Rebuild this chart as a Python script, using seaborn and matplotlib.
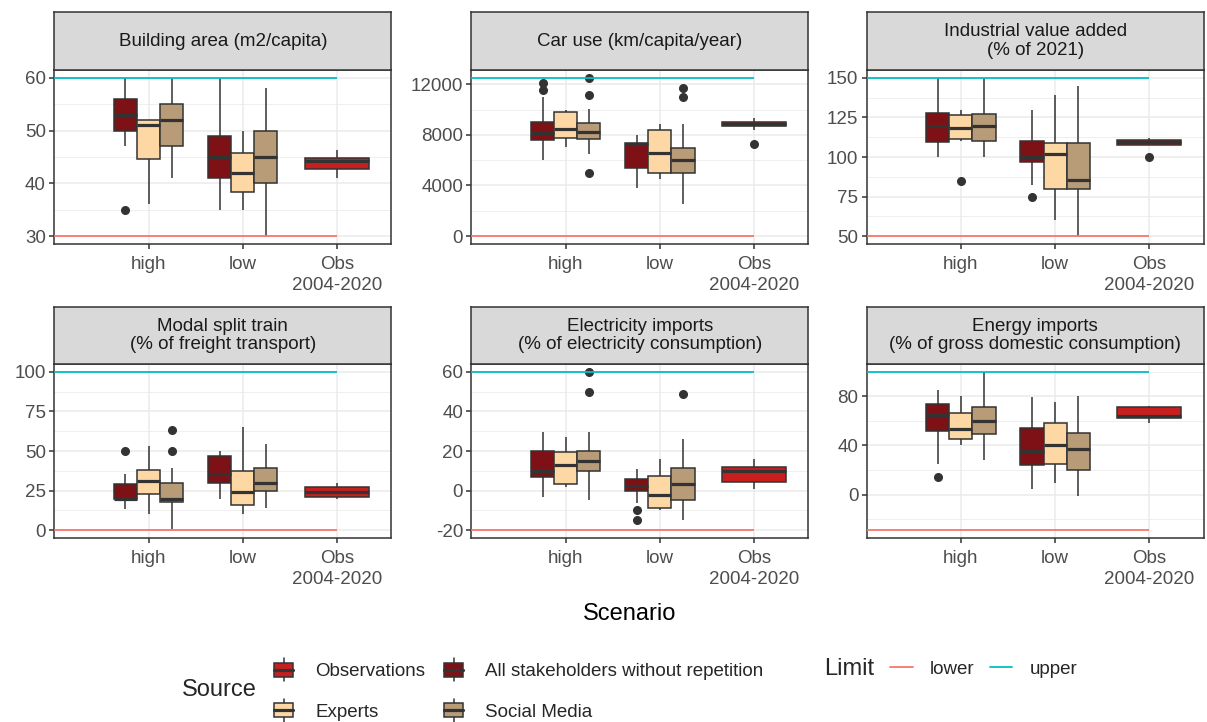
import numpy as np
import pandas as pd
import matplotlib
matplotlib.use("Agg")
import matplotlib.pyplot as plt
import seaborn as sns
from matplotlib.legend_handler import HandlerBase
from matplotlib.patches import Rectangle, Patch
from matplotlib.lines import Line2D
from matplotlib.ticker import FixedLocator

sns.set_theme(style="white")
plt.rcParams['font.family'] = ['Liberation Sans', 'DejaVu Sans']
plt.rcParams['axes.unicode_minus'] = False

# ---------------- data ----------------
scenarios = ["high", "low", "Obs\n2004-2020"]
sources = ["Observations", "All stakeholders without repetition", "Experts", "Social Media"]
source_colors = ["#C81E1E", "#7E1115", "#FDD8A4", "#B89B77"]
limit_labels = ["lower", "upper"]
limit_colors = ["#F8766D", "#00BFC4"]

panel_titles = [
    "Building area (m2/capita)",
    "Car use (km/capita/year)",
    "Industrial value added\n(% of 2021)",
    "Modal split train\n(% of freight transport)",
    "Electricity imports\n(% of electricity consumption)",
    "Energy imports\n(% of gross domestic consumption)",
]
lower_limits = [30, 0, 50, 0, -20, -29]
upper_limits = [60, 12500, 150, 100, 60, 100]
y_breaks = [
    [30, 40, 50, 60],
    [0, 4000, 8000, 12000],
    [50, 75, 100, 125, 150],
    [0, 25, 50, 75, 100],
    [-20, 0, 20, 40, 60],
    [0, 40, 80],
]

# group order: high-All, high-Experts, high-Social, low-All, low-Experts, low-Social, Obs-Observations
group_scenarios = ["high", "high", "high", "low", "low", "low", "Obs\n2004-2020"]
group_sources = [sources[1], sources[2], sources[3], sources[1], sources[2], sources[3], sources[0]]

# each row: lower whisker, Q1, median, Q3, upper whisker
building_area = [
    [47, 50, 53, 56, 60],
    [36, 44.7, 51, 52, 52],
    [41, 47, 52, 55, 60],
    [35, 41, 45, 49, 60],
    [35, 38.3, 42, 45.7, 50],
    [30, 40, 45, 50, 58],
    [41, 42.7, 44.2, 44.8, 46.3],
]
building_area_outliers = [[35], [], [], [], [], [], []]

car_use = [
    [6000, 7630, 8180, 9020, 11000],
    [7060, 7770, 8440, 9780, 9930],
    [6460, 7710, 8230, 8970, 10060],
    [3790, 5360, 7240, 7370, 7970],
    [4500, 5020, 6590, 8420, 8890],
    [2540, 5020, 6010, 6930, 8890],
    [8400, 8690, 8850, 9010, 9360],
]
car_use_outliers = [[11550, 12080], [], [5020, 11110, 12500], [], [], [10980, 11710], [7270]]

industrial = [
    [100, 109.2, 119.7, 127.8, 150],
    [110.3, 111.1, 118.6, 126.6, 129.9],
    [100, 109.8, 119.9, 127, 150],
    [82.4, 96.7, 100.2, 110, 129.5],
    [60, 79.9, 101.7, 108.6, 138.9],
    [50, 79.9, 85.4, 109, 145],
    [107.3, 107.7, 109.2, 110.9, 111.7],
]
industrial_outliers = [[], [85], [], [75], [], [], [100]]

modal_split = [
    [13.1, 19.4, 19.5, 29.3, 35.6],
    [10.3, 22.9, 30.9, 38.3, 53],
    [0.5, 18, 19.8, 30, 39.4],
    [19.4, 29.9, 35.6, 46.7, 49.9],
    [10.3, 15.8, 24, 37.3, 65],
    [14.1, 24.4, 29.9, 39.4, 54.5],
    [19.8, 21.1, 24, 27.2, 29.5],
]
modal_split_outliers = [[50], [], [50, 63], [], [], [], []]

electricity = [
    [-3.2, 6.6, 9.9, 19.9, 29.6],
    [1.9, 3.2, 12.8, 19.7, 27.1],
    [-4.9, 9.8, 15, 19.9, 29.6],
    [-6.4, -0.2, 2.4, 5.7, 10.8],
    [-9.8, -8.6, -2.2, 7.4, 15.8],
    [-14.8, -4.7, 3.2, 11.6, 25.9],
    [1, 4.4, 9.9, 12, 16.2],
]
electricity_outliers = [[], [], [50, 60], [-14.8, -9.8], [], [49], []]

energy = [
    [25.1, 52.2, 64.5, 73.5, 85.2],
    [40.2, 45.4, 53.8, 66.7, 80],
    [28.4, 49.7, 60.1, 71.3, 100],
    [4.6, 23.8, 35.2, 54.6, 79.2],
    [9.8, 25.1, 40.2, 58.7, 75.4],
    [-0.8, 19.7, 37.2, 50.3, 80],
    [58.5, 62.6, 64.3, 71.6, 72.6],
]
energy_outliers = [[13.9], [], [], [], [], [], []]

panel_stats = [building_area, car_use, industrial, modal_split, electricity, energy]
panel_outliers = [building_area_outliers, car_use_outliers, industrial_outliers,
                  modal_split_outliers, electricity_outliers, energy_outliers]


def panel_frame(stats, outs):
    """Build a sample whose box statistics equal the read summary values."""
    rows = []
    for g, (st, ol) in enumerate(zip(stats, outs)):
        wlo, q1, med, q3, whi = st
        vals = list(ol) + [wlo] + [q1] * 20 + [med] * 20 + [q3] * 20 + [whi]
        for v in vals:
            rows.append((group_scenarios[g], group_sources[g], v))
    return pd.DataFrame(rows, columns=["Scenario", "Source", "value"])


# ---------------- layout ----------------
W, H = 1207, 722
fig = plt.figure(figsize=(W / 100, H / 100), dpi=100)

col_left = [54.3, 471.4, 866.6]
panel_w = 337.0
row_strip_top = [12, 307]
row_panel_top = [70, 364]
row_panel_bot = [244, 538]

EDGE = "#333333"
LW = 1.1
obs_label = scenarios[2]
stake_order = [sources[1], sources[2], sources[3]]
stake_pal = [source_colors[1], source_colors[2], source_colors[3]]

box_common = dict(saturation=1, linecolor=EDGE, linewidth=LW, showcaps=False,
                  fliersize=5.5,
                  flierprops=dict(marker='o', markerfacecolor=EDGE, markeredgecolor=EDGE),
                  medianprops=dict(linewidth=2.3, color=EDGE))

for i in range(6):
    r, c = divmod(i, 3)
    left = col_left[c] / W
    bottom = 1 - row_panel_bot[r] / H
    height = (row_panel_bot[r] - row_panel_top[r]) / H
    ax = fig.add_axes([left, bottom, panel_w / W, height])

    df = panel_frame(panel_stats[i], panel_outliers[i])
    stake = df[df["Scenario"] != obs_label]
    obs = df[df["Scenario"] == obs_label]

    sns.boxplot(data=stake, x="Scenario", y="value", hue="Source", order=scenarios,
                hue_order=stake_order, palette=stake_pal, width=0.735, gap=0,
                dodge=True, legend=False, ax=ax, **box_common)
    sns.boxplot(data=obs, x="Scenario", y="value", order=scenarios,
                color=source_colors[0], width=0.68, ax=ax, **box_common)

    lo, hi = lower_limits[i], upper_limits[i]
    ax.hlines([lo], -1.0, 2.0, color=limit_colors[0], lw=1.3, zorder=4)
    ax.hlines([hi], -1.0, 2.0, color=limit_colors[1], lw=1.3, zorder=4)

    rng = hi - lo
    ax.set_xlim(-1.0, 2.575)
    ax.set_ylim(lo - 0.05 * rng, hi + 0.05 * rng)

    br = y_breaks[i]
    step = br[1] - br[0]
    ax.set_yticks(br)
    ax.set_yticklabels([str(b) for b in br])
    minors = [br[0] - step / 2 + k * step for k in range(len(br) + 1)]
    ax.yaxis.set_minor_locator(FixedLocator(minors))
    ax.set_xticks([0, 1, 2])
    ax.set_xticklabels(scenarios)
    for lbl in ax.get_xticklabels():
        lbl.set_linespacing(1.3)
    ax.set_xlabel("")
    ax.set_ylabel("")

    ax.set_axisbelow(True)
    ax.grid(False)
    ax.grid(which="major", axis="both", color="#EBEBEB", lw=1.1)
    ax.grid(which="minor", axis="y", color="#EBEBEB", lw=0.55)
    ax.tick_params(which="major", length=3.5, width=LW, color=EDGE,
                   labelcolor="#4D4D4D", labelsize=13.5, pad=2.5,
                   bottom=True, left=True)
    ax.tick_params(axis="x", which="major", pad=5.3)
    ax.tick_params(which="minor", length=0)
    for sp in ax.spines.values():
        sp.set_visible(True)
        sp.set_color(EDGE)
        sp.set_linewidth(LW)
    ax.set_facecolor("white")

    # facet strip
    sax = fig.add_axes([left, 1 - row_panel_top[r] / H, panel_w / W,
                        (row_panel_top[r] - row_strip_top[r]) / H])
    sax.set_facecolor("#D9D9D9")
    sax.set_xticks([])
    sax.set_yticks([])
    for sp in sax.spines.values():
        sp.set_visible(True)
        sp.set_color(EDGE)
        sp.set_linewidth(LW)
    sax.text(0.5, 0.5, panel_titles[i], ha="center", va="center",
             fontsize=13.5, color="#1A1A1A", linespacing=1.15,
             transform=sax.transAxes)

fig.text(630 / W, 1 - 620.5 / H, "Scenario", ha="center", va="baseline",
         fontsize=17, color="black")


# ---------------- legends ----------------
class BoxKeyHandler(HandlerBase):
    def create_artists(self, legend, orig_handle, xdescent, ydescent, width,
                       height, fontsize, trans):
        fc = orig_handle.get_facecolor()
        x0, y0 = -xdescent, -ydescent
        rect = Rectangle((x0 + 0.12 * width, y0 + 0.2 * height), 0.76 * width,
                         0.6 * height, facecolor=fc, edgecolor=EDGE, lw=LW,
                         transform=trans)
        med = Line2D([x0 + 0.12 * width, x0 + 0.88 * width],
                     [y0 + 0.5 * height] * 2, color=EDGE, lw=2.3, transform=trans)
        w1 = Line2D([x0 + 0.5 * width] * 2, [y0, y0 + 0.2 * height],
                    color=EDGE, lw=LW, transform=trans)
        w2 = Line2D([x0 + 0.5 * width] * 2, [y0 + 0.8 * height, y0 + height],
                    color=EDGE, lw=LW, transform=trans)
        return [w1, w2, rect, med]


leg_order = [0, 2, 1, 3]
src_handles = [Patch(facecolor=source_colors[k]) for k in leg_order]
src_labels = [sources[k] for k in leg_order]
leg1 = fig.legend(src_handles, src_labels, ncol=2, loc="center left",
                  bbox_to_anchor=(271 / W, 1 - 690 / H), frameon=False,
                  fontsize=13.5, handlelength=1.35, handleheight=1.5,
                  handletextpad=1.0, columnspacing=0.85, labelspacing=0.95,
                  borderpad=0, borderaxespad=0,
                  handler_map={Patch: BoxKeyHandler()})
fig.text(182 / W, 1 - 690 / H, "Source", ha="left", va="center", fontsize=17)

lim_handles = [Line2D([], [], color=limit_colors[k], lw=1.3) for k in range(2)]
leg2 = fig.legend(lim_handles, limit_labels, ncol=2, loc="center left",
                  bbox_to_anchor=(890 / W, 1 - 669 / H), frameon=False,
                  fontsize=13.5, handlelength=1.2, handletextpad=0.9,
                  columnspacing=0.85, borderpad=0, borderaxespad=0)
fig.text(824 / W, 1 - 669 / H, "Limit", ha="left", va="center", fontsize=17)

fig.savefig("out.png", dpi=100, facecolor="white")
